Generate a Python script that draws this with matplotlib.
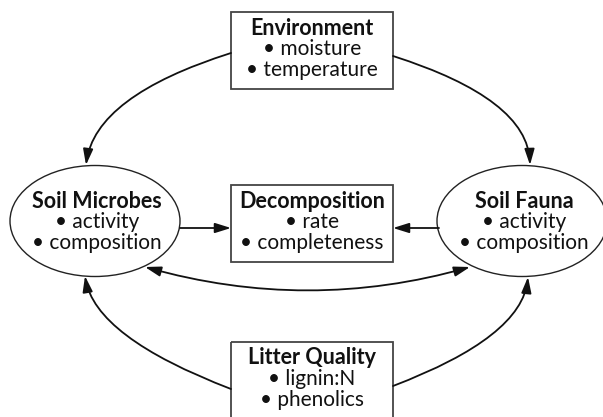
import matplotlib
matplotlib.use('Agg')
import matplotlib.pyplot as plt
from matplotlib.patches import Rectangle, Ellipse, FancyArrowPatch
from matplotlib.path import Path

plt.rcParams['font.family'] = ['Lato', 'DejaVu Sans']

W, H = 603, 417

# node titles and bullet items
box_titles = ['Environment', 'Decomposition', 'Litter Quality']
box_items = [['moisture', 'temperature'], ['rate', 'completeness'], ['lignin:N', 'phenolics']]
box_tops = [12, 185, 342]
box_left, box_right = 231, 393

ell_titles = ['Soil Microbes', 'Soil Fauna']
ell_items = [['activity', 'composition'], ['activity', 'composition']]
ell_centers = [(95, 221), (522, 221)]
ell_w, ell_h = 170, 111

fig = plt.figure(figsize=(W / 100, H / 100), dpi=100)
ax = fig.add_axes([0, 0, 1, 1])
ax.set_xlim(0, W)
ax.set_ylim(H, 0)
ax.axis('off')

fs_title = 15.5
fs_item = 15


def draw_text(cx, top_y, title, items):
    ax.text(cx, top_y, title, ha='center', va='center', fontsize=fs_title,
            fontweight='bold', color='#111111')
    for i, it in enumerate(items):
        ax.text(cx, top_y + 21 * (i + 1), '\u2022 ' + it, ha='center', va='center',
                fontsize=fs_item, color='#111111')


# rectangles
for title, items, top in zip(box_titles, box_items, box_tops):
    ax.add_patch(Rectangle((box_left, top), box_right - box_left, 77, fill=False,
                           edgecolor='#444444', lw=1.3))
    draw_text((box_left + box_right) / 2, top + 16, title, items)

# ellipses
for title, items, (cx, cy) in zip(ell_titles, ell_items, ell_centers):
    ax.add_patch(Ellipse((cx, cy), ell_w, ell_h, fill=False, edgecolor='#222222', lw=1.0))
    draw_text(cx + 2, cy - 20, title, items)


def curve(p0, c, p1, style='-|>'):
    path = Path([p0, c, p1], [Path.MOVETO, Path.CURVE3, Path.CURVE3])
    arr = FancyArrowPatch(path=path, arrowstyle=style + ',head_length=0.8,head_width=0.25',
                          mutation_scale=12, color='#111111', lw=1.3, shrinkA=0, shrinkB=0)
    ax.add_patch(arr)


# environment -> microbes / fauna
curve((231, 53), (95, 96), (86, 165))
curve((393, 56), (528, 99), (530, 165))
# litter quality -> microbes / fauna
curve((231, 389), (95, 337), (85, 276))
curve((393, 386), (522, 337), (528, 277))
# microbes <-> fauna
curve((145, 267), (308, 313), (470, 267), style='<|-|>')
# straight arrows into decomposition
curve((180, 228), (205, 228), (231, 228))
curve((439, 228), (416, 228), (393, 228))

fig.savefig('out.png', dpi=100)
